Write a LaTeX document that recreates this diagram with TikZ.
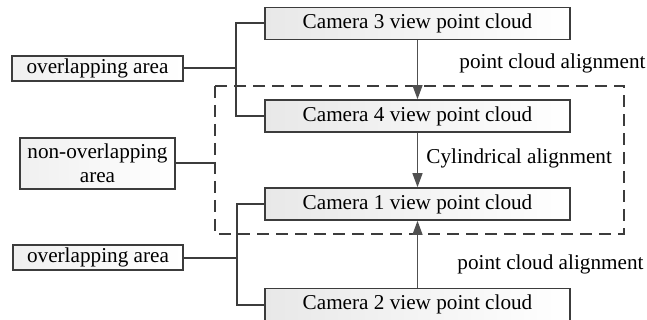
\documentclass[tikz,border=0pt]{standalone}
\usepackage{fontspec}
\setmainfont{Liberation Serif}
\usepackage{tikz}
\usetikzlibrary{positioning, arrows.meta}
\definecolor{linegray}{HTML}{3C3C3C}
\tikzset{x=0.5pt, y=-0.5pt,
         >={Triangle[length=7pt, width=5pt]},
         every node/.style={font=\fontsize{10.6}{12}\selectfont},
         view/.style={draw=linegray, line width=0.8pt, left color=gray!18, right color=white,
                      minimum width=152.5pt, minimum height=16pt, inner sep=0pt},
         area/.style={draw=linegray, line width=0.8pt, left color=gray!12, right color=white,
                      inner sep=0pt, align=center},
         link/.style={draw=linegray, line width=1pt},
         align arrow/.style={->, draw=linegray!90, line width=0.6pt},
         step label/.style={anchor=west, inner sep=0pt},
         }

\begin{document}
\begin{tikzpicture}
    \useasboundingbox (0,0) rectangle (647,320);

    \node[view] (c3) at (417.5,23.5) {Camera 3 view point cloud};
    \node[view, below of=c3, node distance=46.25pt] (c4) {Camera 4 view point cloud};
    \node[view, below of=c4, node distance=44pt] (c1) {Camera 1 view point cloud};
    \node[view, below of=c1, node distance=50.25pt] (c2) {Camera 2 view point cloud};

    \node[area, minimum width=85.5pt, minimum height=12.5pt] (ov1) at (97.5,68.5) {overlapping area};
    \node[area, minimum width=77.5pt, minimum height=25.5pt] (nov) at (97.5,163.5) {non-overlapping\\area};
    \node[area, minimum width=85pt, minimum height=12.5pt] (ov2) at (98,257.5) {overlapping area};

    % dashed region round cameras 4 and 1
    \coordinate (dl) at (215,163.5);
    \draw[draw=linegray, line width=0.8pt, dash pattern=on 6pt off 3.5pt] (215,86) rectangle (624,234);

    % brackets
    \coordinate (bx1) at (236,68.5);
    \coordinate (bx2) at (237,257.5);
    \draw[link] (c3.west) -| (bx1) |- (c4.west);
    \draw[link] (ov1.east) -- (bx1);
    \draw[link] (c1.west) -| (bx2) |- (c2.west);
    \draw[link] (ov2.east) -- (bx2);
    \draw[link] (nov.east) -- (dl);

    % alignment steps
    \draw[align arrow] (c3) -- (c4);
    \draw[align arrow] (c4) -- (c1);
    \draw[align arrow] (c2) -- (c1);
    \node[step label] (lab1) at (459,63) {point cloud alignment};
    \node[step label] (lab2) at (426,158) {Cylindrical alignment};
    \node[step label] (lab3) at (457,264) {point cloud alignment};
\end{tikzpicture}
\end{document}
